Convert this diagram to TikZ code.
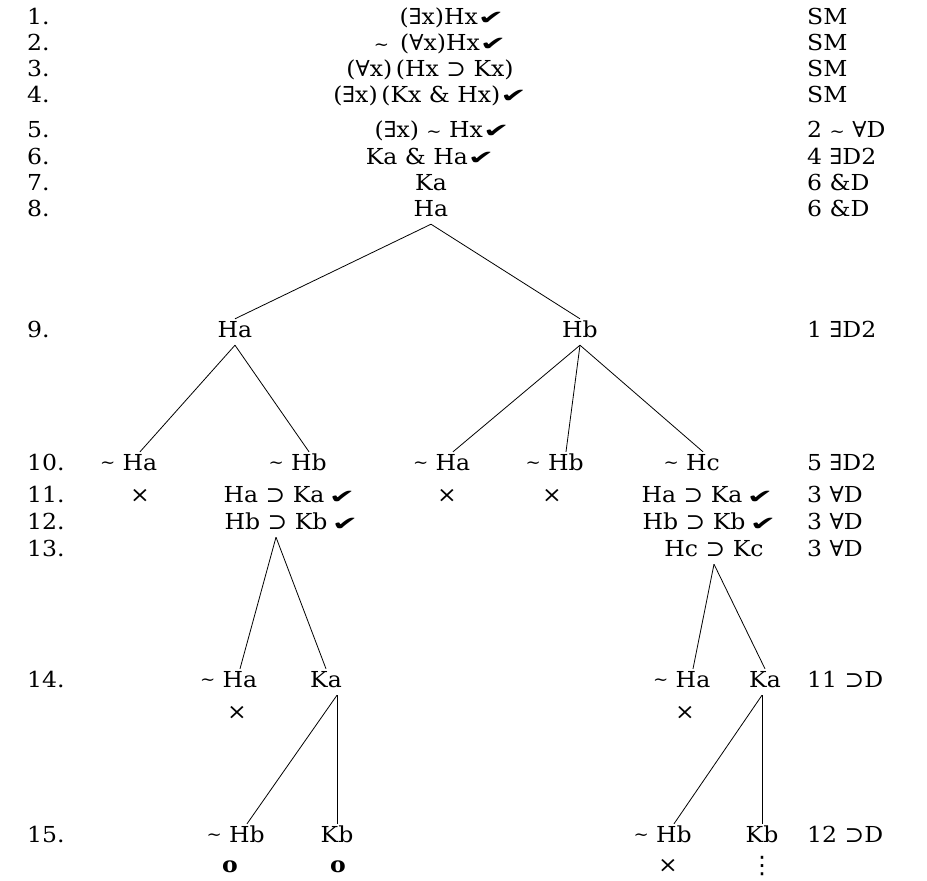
\documentclass[tikz,border=0pt]{standalone}
\usepackage{fontspec}
\setmainfont{DejaVu Serif}[FakeStretch=1.07]
\newfontfamily\chkfont{DejaVu Sans}
\usetikzlibrary{positioning}
\newcommand{\negtl}{{\fontsize{17}{17}\selectfont\textasciitilde}}
\newcommand{\okmark}{\scalebox{2.1}[1.3]{\chkfont\fontsize{15}{15}\selectfont ✔}}

\begin{document}
\begin{tikzpicture}[x=1pt, y=-1pt, font=\fontsize{22}{24}\selectfont]
                \tikzset{
                    fm/.style={inner sep=3pt, text height=15pt, text depth=5pt},
                    linenum/.style={fm, anchor=west},
                    rule/.style={fm, anchor=west},
                    chk/.style={label={[inner sep=0pt, xshift=1pt]right:\okmark}},
                    neg/.style={label={[inner sep=1pt, xshift=-3pt]left:\negtl}},
                    branch/.style={line width=0.8pt}
                }
                \useasboundingbox (0,0) rectangle (927,881);

                % line numbers
                \node[linenum] (n1) at (24,19) {1.};
                \node[linenum] (n2) at (24,45) {2.};
                \node[linenum] (n3) at (24,71) {3.};
                \node[linenum] (n4) at (24,97) {4.};
                \node[linenum] (n5) at (24,132) {5.};
                \node[linenum] (n6) at (24,159) {6.};
                \node[linenum] (n7) at (24,185) {7.};
                \node[linenum] (n8) at (24,211) {8.};
                \node[linenum] (n9) at (24,332) {9.};
                \node[linenum] (n10) at (24,465) {10.};
                \node[linenum] (n11) at (24,497) {11.};
                \node[linenum] (n12) at (24,524) {12.};
                \node[linenum] (n13) at (24,551) {13.};
                \node[linenum] (n14) at (24,682) {14.};
                \node[linenum] (n15) at (24,837) {15.};

                % trunk
                \node[fm] (f1) at (452,19) {(∃x)Hx\okmark};
                \node[fm] (f2) at (440,45) {\negtl\ \,(∀x)Hx\okmark};
                \node[fm] (f3) at (430,71) {(∀x)\,(Hx ⊃ Kx)};
                \node[fm] (f4) at (430,97) {(∃x)\,(Kx \& Hx)\okmark};
                \node[fm] (f5) at (442,132) {(∃x) \negtl\ Hx\okmark};
                \node[fm] (f6) at (430,159) {Ka \& Ha\okmark};
                \node[fm] (f7) at (431,185) {Ka};
                \node[fm] (f8) at (431,211) {Ha};

                % branches
                \node[fm] (a9) at (235,332) {Ha};
                \node[fm] (b9) at (580,332) {Hb};

                \node[fm, neg] (a10) at (140,465) {Ha};
                \node[fm, neg] (b10) at (309,465) {Hb};
                \node[fm, neg] (c10) at (453,465) {Ha};
                \node[fm, neg] (d10) at (566,465) {Hb};
                \node[fm, neg] (e10) at (703,465) {Hc};

                \node[fm] (x11a) at (140,497) {×};
                \node[fm, chk] (b11) at (274,497) {Ha ⊃ Ka};
                \node[fm] (x11c) at (447,497) {×};
                \node[fm] (x11d) at (552,497) {×};
                \node[fm, chk] (d11) at (692,497) {Ha ⊃ Ka};

                \node[fm, chk] (b12) at (276,524) {Hb ⊃ Kb};
                \node[fm, chk] (d12) at (694,524) {Hb ⊃ Kb};
                \node[fm] (d13) at (714,551) {Hc ⊃ Kc};

                \node[fm, neg] (a14) at (240,682) {Ha};
                \node[fm] (b14) at (326,682) {Ka};
                \node[fm, neg] (c14) at (693,682) {Ha};
                \node[fm] (d14) at (765,682) {Ka};
                \node[fm] (x14a) at (237,714) {×};
                \node[fm] (x14c) at (685,714) {×};

                \node[fm, neg] (a15) at (247,837) {Hb};
                \node[fm] (b15) at (337,837) {Kb};
                \node[fm, neg] (c15) at (674,837) {Hb};
                \node[fm] (d15) at (762,837) {Kb};
                \node[fm] (o15a) at (230,867) {\textbf{o}};
                \node[fm] (o15b) at (338,867) {\textbf{o}};
                \node[fm] (x15c) at (668,867) {×};
                \node[inner sep=0pt] (v15d) at (762,866) {\chkfont\fontsize{24}{24}\selectfont ⋮};

                % justifications
                \node[rule] (j1) at (804,19) {SM};
                \node[rule] (j2) at (804,45) {SM};
                \node[rule] (j3) at (804,71) {SM};
                \node[rule] (j4) at (804,97) {SM};
                \node[rule] (j5) at (804,132) {2 \negtl\ ∀D};
                \node[rule] (j6) at (804,159) {4 ∃D2};
                \node[rule] (j7) at (804,185) {6 \&D};
                \node[rule] (j8) at (804,211) {6 \&D};
                \node[rule] (j9) at (804,332) {1 ∃D2};
                \node[rule] (j10) at (804,465) {5 ∃D2};
                \node[rule] (j11) at (804,497) {3 ∀D};
                \node[rule] (j12) at (804,524) {3 ∀D};
                \node[rule] (j13) at (804,551) {3 ∀D};
                \node[rule] (j14) at (804,682) {11 ⊃D};
                \node[rule] (j15) at (804,837) {12 ⊃D};

                \path[branch]
                    (f8.south) edge (a9.north)
                    (f8.south) edge (b9.north)
                    (a9.south) edge (a10.north)
                    (a9.south) edge (b10.north)
                    (b9.south) edge (c10.north)
                    (b9.south) edge (d10.north)
                    (b9.south) edge (e10.north)
                    (b12.south) edge (a14.north)
                    (b12.south) edge (b14.north)
                    (b14.south -| b15) edge (a15.north)
                    (b14.south -| b15) edge (b15.north)
                    (d13.south) edge (c14.north)
                    (d13.south) edge (d14.north)
                    (d14.south -| d15) edge (c15.north)
                    (d14.south -| d15) edge (d15.north);

            \end{tikzpicture}
\end{document}
